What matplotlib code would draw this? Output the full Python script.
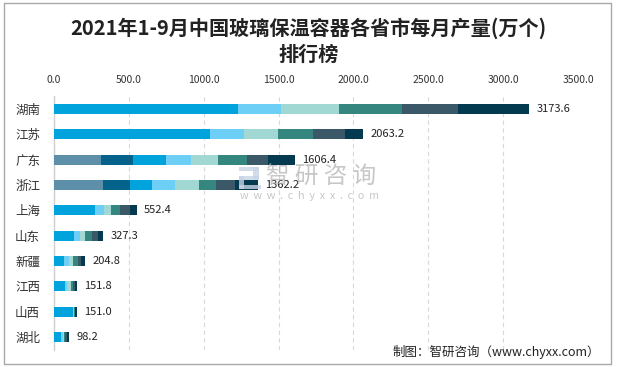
import matplotlib
matplotlib.use("Agg")
import matplotlib.pyplot as plt
from matplotlib.patches import Rectangle
import numpy as np

plt.rcParams['font.family'] = ['Noto Sans CJK SC', 'DejaVu Sans']

provinces = ["湖南", "江苏", "广东", "浙江", "上海", "山东", "新疆", "江西", "山西", "湖北"]
totals = [3173.6, 2063.2, 1606.4, 1362.2, 552.4, 327.3, 204.8, 151.8, 151.0, 98.2]

s1 = [0, 0, 314, 327, 0, 0, 0, 0, 0, 0]
s2 = [0, 0, 214, 180, 0, 0, 0, 0, 0, 0]
s3 = [1231, 1042, 220, 147, 274, 134, 70, 76, 125, 47]
s4 = [285, 225, 167, 154, 60, 40, 27, 13, 7, 11]
s5 = [387, 229, 180, 160, 47, 33, 33, 27, 3, 9]
s6 = [419, 234, 194, 114, 60, 47, 33, 8, 3, 7]
s7 = [376, 214, 140, 127, 67, 40, 20, 13, 5, 12]
s8 = [475.6, 119.2, 177.4, 153.2, 44.4, 33.3, 21.8, 14.8, 8, 12.2]

xticks = [0, 500, 1000, 1500, 2000, 2500, 3000, 3500]

series = [s1, s2, s3, s4, s5, s6, s7, s8]
colors = ["#5E8FA8", "#05628A", "#00A3DC", "#6DCFF5", "#A1D8D4", "#368680", "#3A5867", "#033A4F"]

W, H = 617, 367
fig = plt.figure(figsize=(W / 100, H / 100), dpi=100)
ax = fig.add_axes([54 / W, 1 - 349.7 / H, (578 - 54) / W, (349.7 - 96.3) / H])

y = np.arange(len(provinces))
left = np.zeros(len(provinces))
for vals, c in zip(series, colors):
    v = np.array(vals, dtype=float)
    ax.barh(y, v, left=left, height=0.4, color=c, edgecolor='none', zorder=3)
    left += v

ax.set_xlim(0, 3500)
ax.set_ylim(len(provinces) - 0.5, -0.5)
ax.set_yticks(y)
ax.set_yticklabels(provinces, fontsize=9, color='#333333')
ax.set_xticks(xticks)
ax.set_xticklabels([f"{v:.1f}" for v in xticks], fontsize=7.5, color='#333333')
ax.xaxis.tick_top()
ax.tick_params(axis='x', length=0, pad=8)
ax.tick_params(axis='y', length=0, pad=10)
for s in ['top', 'right', 'bottom']:
    ax.spines[s].set_visible(False)
ax.spines['left'].set_color('#D0D0D0')
ax.spines['left'].set_linewidth(1)
ax.grid(axis='x', color='#D9D9D9', linestyle=(0, (4, 3)), linewidth=0.8, zorder=0)
ax.set_axisbelow(True)

fig.text(0.5, 1 - 28 / H, "2021年1-9月中国玻璃保温容器各省市每月产量(万个)", ha='center', va='center',
         fontsize=14.5, fontweight='bold', color='#222222')
fig.text(0.5, 1 - 54 / H, "排行榜", ha='center', va='center',
         fontsize=14.5, fontweight='bold', color='#222222')

# watermark (drawn beneath the value labels)
fig.text(321 / W, 1 - 177 / H, "智 研 咨 询", ha='center', va='center', fontsize=17,
         color='#B0B0B0', alpha=0.7, zorder=4)
fig.text(309 / W, 1 - 196 / H, "w  w  w  .  c  h  y  x  x  .  c  o  m", ha='center', va='center',
         fontsize=7.8, color='#B0B0B0', alpha=0.7, zorder=4)
for (x0, y0, w, h, c) in [(239, 167, 20, 4, '#C8D4E6'), (253, 167, 6, 12, '#C8D4E6'),
                          (239, 176, 20, 4, '#C8D4E6'), (239, 176, 5, 13, '#C8D4E6'),
                          (239, 185, 22, 4, '#C8D4E6')]:
    fig.patches.append(Rectangle((x0 / W, 1 - (y0 + h) / H), w / W, h / H, transform=fig.transFigure,
                                 facecolor=c, edgecolor='none', alpha=0.8, zorder=4))

for yi, t in zip(y, totals):
    ax.text(t + 50, yi, f"{t:.1f}", va='center', ha='left', fontsize=8, color='#222222', zorder=5)

fig.text(600 / W, 1 - 352 / H, "制图：智研咨询（www.chyxx.com）", ha='right', va='center',
         fontsize=9, color='#222222')

fig.patches.append(Rectangle((4 / W, 3 / H), (W - 10) / W, (H - 6) / H, transform=fig.transFigure,
                             fill=False, edgecolor='#A8A8A8', linewidth=1))

fig.savefig("out.png", dpi=100)
